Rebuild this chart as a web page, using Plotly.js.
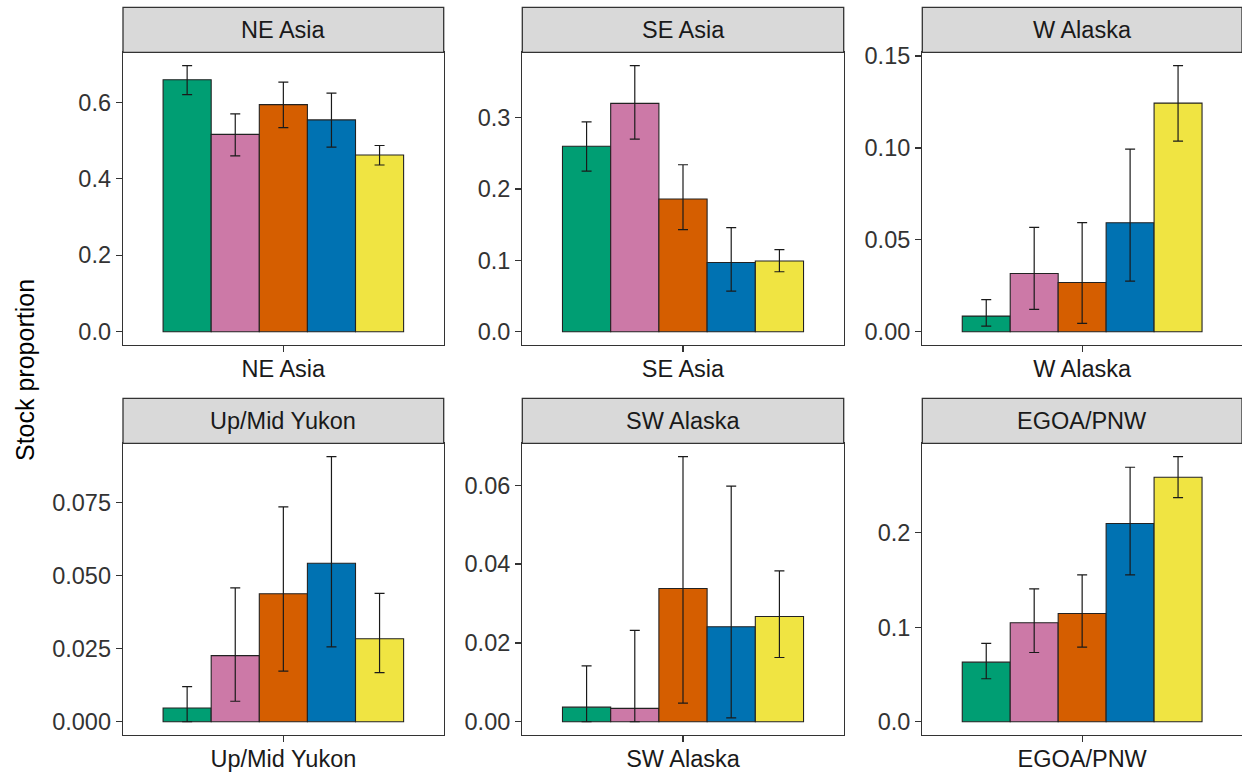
<!DOCTYPE html>
<html>
<head>
<meta charset="utf-8">
<script src="https://cdn.plot.ly/plotly-3.0.1.min.js"></script>
<style>html,body{margin:0;padding:0;background:#fff;}#chart{width:1242px;height:773px;}</style>
</head>
<body>
<div id="chart"></div>
<script>
// ---- data ----
const regions = ["NE Asia", "SE Asia", "W Alaska", "Up/Mid Yukon", "SW Alaska", "EGOA/PNW"];
const groups = ["Group 1", "Group 2", "Group 3", "Group 4", "Group 5"];

const neAsiaProp  = [0.659, 0.516, 0.594, 0.554, 0.462];
const neAsiaLower = [0.620, 0.460, 0.534, 0.483, 0.436];
const neAsiaUpper = [0.696, 0.570, 0.653, 0.624, 0.487];

const seAsiaProp  = [0.260, 0.320, 0.186, 0.097, 0.099];
const seAsiaLower = [0.225, 0.270, 0.143, 0.057, 0.084];
const seAsiaUpper = [0.294, 0.373, 0.234, 0.146, 0.115];

const wAlaskaProp  = [0.0085, 0.0317, 0.0268, 0.0593, 0.1244];
const wAlaskaLower = [0.0030, 0.0121, 0.0045, 0.0275, 0.1037];
const wAlaskaUpper = [0.0174, 0.0568, 0.0593, 0.0994, 0.1448];

const yukonProp  = [0.0047, 0.0226, 0.0438, 0.0542, 0.0284];
const yukonLower = [0.0000, 0.0070, 0.0173, 0.0256, 0.0168];
const yukonUpper = [0.0120, 0.0458, 0.0735, 0.0907, 0.0439];

const swAlaskaProp  = [0.0037, 0.0034, 0.0338, 0.0241, 0.0267];
const swAlaskaLower = [0.0000, 0.0000, 0.0047, 0.0010, 0.0163];
const swAlaskaUpper = [0.0142, 0.0232, 0.0673, 0.0598, 0.0383];

const egoaProp  = [0.0631, 0.1048, 0.1146, 0.2098, 0.2588];
const egoaLower = [0.0455, 0.0733, 0.0790, 0.1555, 0.2373];
const egoaUpper = [0.0829, 0.1407, 0.1555, 0.2694, 0.2807];

const neAsiaTicks = [0, 0.2, 0.4, 0.6];           const neAsiaTickText = ["0.0", "0.2", "0.4", "0.6"];
const seAsiaTicks = [0, 0.1, 0.2, 0.3];           const seAsiaTickText = ["0.0", "0.1", "0.2", "0.3"];
const wAlaskaTicks = [0, 0.05, 0.10, 0.15];       const wAlaskaTickText = ["0.00", "0.05", "0.10", "0.15"];
const yukonTicks = [0, 0.025, 0.05, 0.075];       const yukonTickText = ["0.000", "0.025", "0.050", "0.075"];
const swAlaskaTicks = [0, 0.02, 0.04, 0.06];      const swAlaskaTickText = ["0.00", "0.02", "0.04", "0.06"];
const egoaTicks = [0, 0.1, 0.2];                  const egoaTickText = ["0.0", "0.1", "0.2"];

// ---- styles ----
const colors = ["#009E73", "#CC79A7", "#D55E00", "#0072B2", "#F0E442"];
const FONT = "Liberation Sans, Arial, Helvetica, sans-serif";
const TICKSIZE = 23.5;

const panels = [
  {name: regions[0], p: neAsiaProp, lo: neAsiaLower, hi: neAsiaUpper, tv: neAsiaTicks, tt: neAsiaTickText},
  {name: regions[1], p: seAsiaProp, lo: seAsiaLower, hi: seAsiaUpper, tv: seAsiaTicks, tt: seAsiaTickText},
  {name: regions[2], p: wAlaskaProp, lo: wAlaskaLower, hi: wAlaskaUpper, tv: wAlaskaTicks, tt: wAlaskaTickText},
  {name: regions[3], p: yukonProp, lo: yukonLower, hi: yukonUpper, tv: yukonTicks, tt: yukonTickText},
  {name: regions[4], p: swAlaskaProp, lo: swAlaskaLower, hi: swAlaskaUpper, tv: swAlaskaTicks, tt: swAlaskaTickText},
  {name: regions[5], p: egoaProp, lo: egoaLower, hi: egoaUpper, tv: egoaTicks, tt: egoaTickText}
];

const W = 1242, H = 773;
const colDom = [[123 / W, 443.7 / W], [522.3 / W, 843.7 / W], [922.3 / W, 1.0]];
const rowDom = [[1 - 345 / H, 1 - 52.3 / H], [1 - 735 / H, 1 - 443.3 / H]];
const panelH = 292.7, stripH = 45;

const traces = [];
const layout = {
  width: W, height: H,
  margin: {l: 0, r: 0, t: 0, b: 0},
  paper_bgcolor: "#fff", plot_bgcolor: "#fff",
  showlegend: false,
  barmode: "group", bargap: 0.1, bargroupgap: 0,
  font: {family: FONT},
  shapes: [], annotations: []
};

panels.forEach((pn, i) => {
  const k = i + 1;
  const xa = "x" + (k === 1 ? "" : k), ya = "y" + (k === 1 ? "" : k);
  const xKey = "xaxis" + (k === 1 ? "" : k), yKey = "yaxis" + (k === 1 ? "" : k);
  const row = Math.floor(i / 3), col = i % 3;
  groups.forEach((g, j) => {
    traces.push({
      type: "bar", name: g, x: [pn.name], y: [pn.p[j]],
      xaxis: xa, yaxis: ya,
      marker: {color: colors[j], line: {color: "#222", width: 1.1}},
      error_y: {type: "data", symmetric: false,
        array: [pn.hi[j] - pn.p[j]], arrayminus: [pn.p[j] - pn.lo[j]],
        color: "#1a1a1a", thickness: 1.2, width: 5},
      hoverinfo: "skip"
    });
  });
  const ymax = Math.max(...pn.hi);
  layout[xKey] = {
    domain: colDom[col], anchor: ya, type: "category", range: [-0.6, 0.6],
    showline: true, mirror: true, linecolor: "#333", linewidth: 1.3,
    ticks: "outside", ticklen: 6, tickcolor: "#333", tickwidth: 1.3,
    ticklabelstandoff: -4,
    tickfont: {size: TICKSIZE, color: "#1a1a1a", family: FONT},
    showgrid: false, zeroline: false, fixedrange: true
  };
  layout[yKey] = {
    domain: rowDom[row], anchor: xa, range: [-0.05 * ymax, 1.05 * ymax],
    tickmode: "array", tickvals: pn.tv, ticktext: pn.tt,
    showline: true, mirror: true, linecolor: "#333", linewidth: 1.3,
    ticks: "outside", ticklen: 6, tickcolor: "#333", tickwidth: 1.3,
    tickfont: {size: TICKSIZE, color: "#333", family: FONT},
    showgrid: false, zeroline: false, fixedrange: true
  };
  // strip
  layout.shapes.push({
    type: "rect", xref: xa + " domain", yref: ya + " domain",
    x0: 0, x1: 1, y0: 1, y1: 1 + stripH / panelH,
    fillcolor: "#d9d9d9", line: {color: "#333", width: 1.3}, layer: "above"
  });
  layout.annotations.push({
    text: pn.name, xref: xa + " domain", yref: ya + " domain",
    x: 0.5, y: 1 + stripH / 2 / panelH, xanchor: "center", yanchor: "middle",
    showarrow: false, font: {size: TICKSIZE, color: "#1a1a1a", family: FONT}
  });
});

layout.annotations.push({
  text: "Stock proportion", xref: "paper", yref: "paper",
  x: 25 / W, y: 1 - 370 / H, xanchor: "center", yanchor: "middle",
  textangle: -90, showarrow: false, font: {size: 25, color: "#000", family: FONT}
});

Plotly.newPlot("chart", traces, layout, {displayModeBar: false, staticPlot: true});
</script>
</body>
</html>
